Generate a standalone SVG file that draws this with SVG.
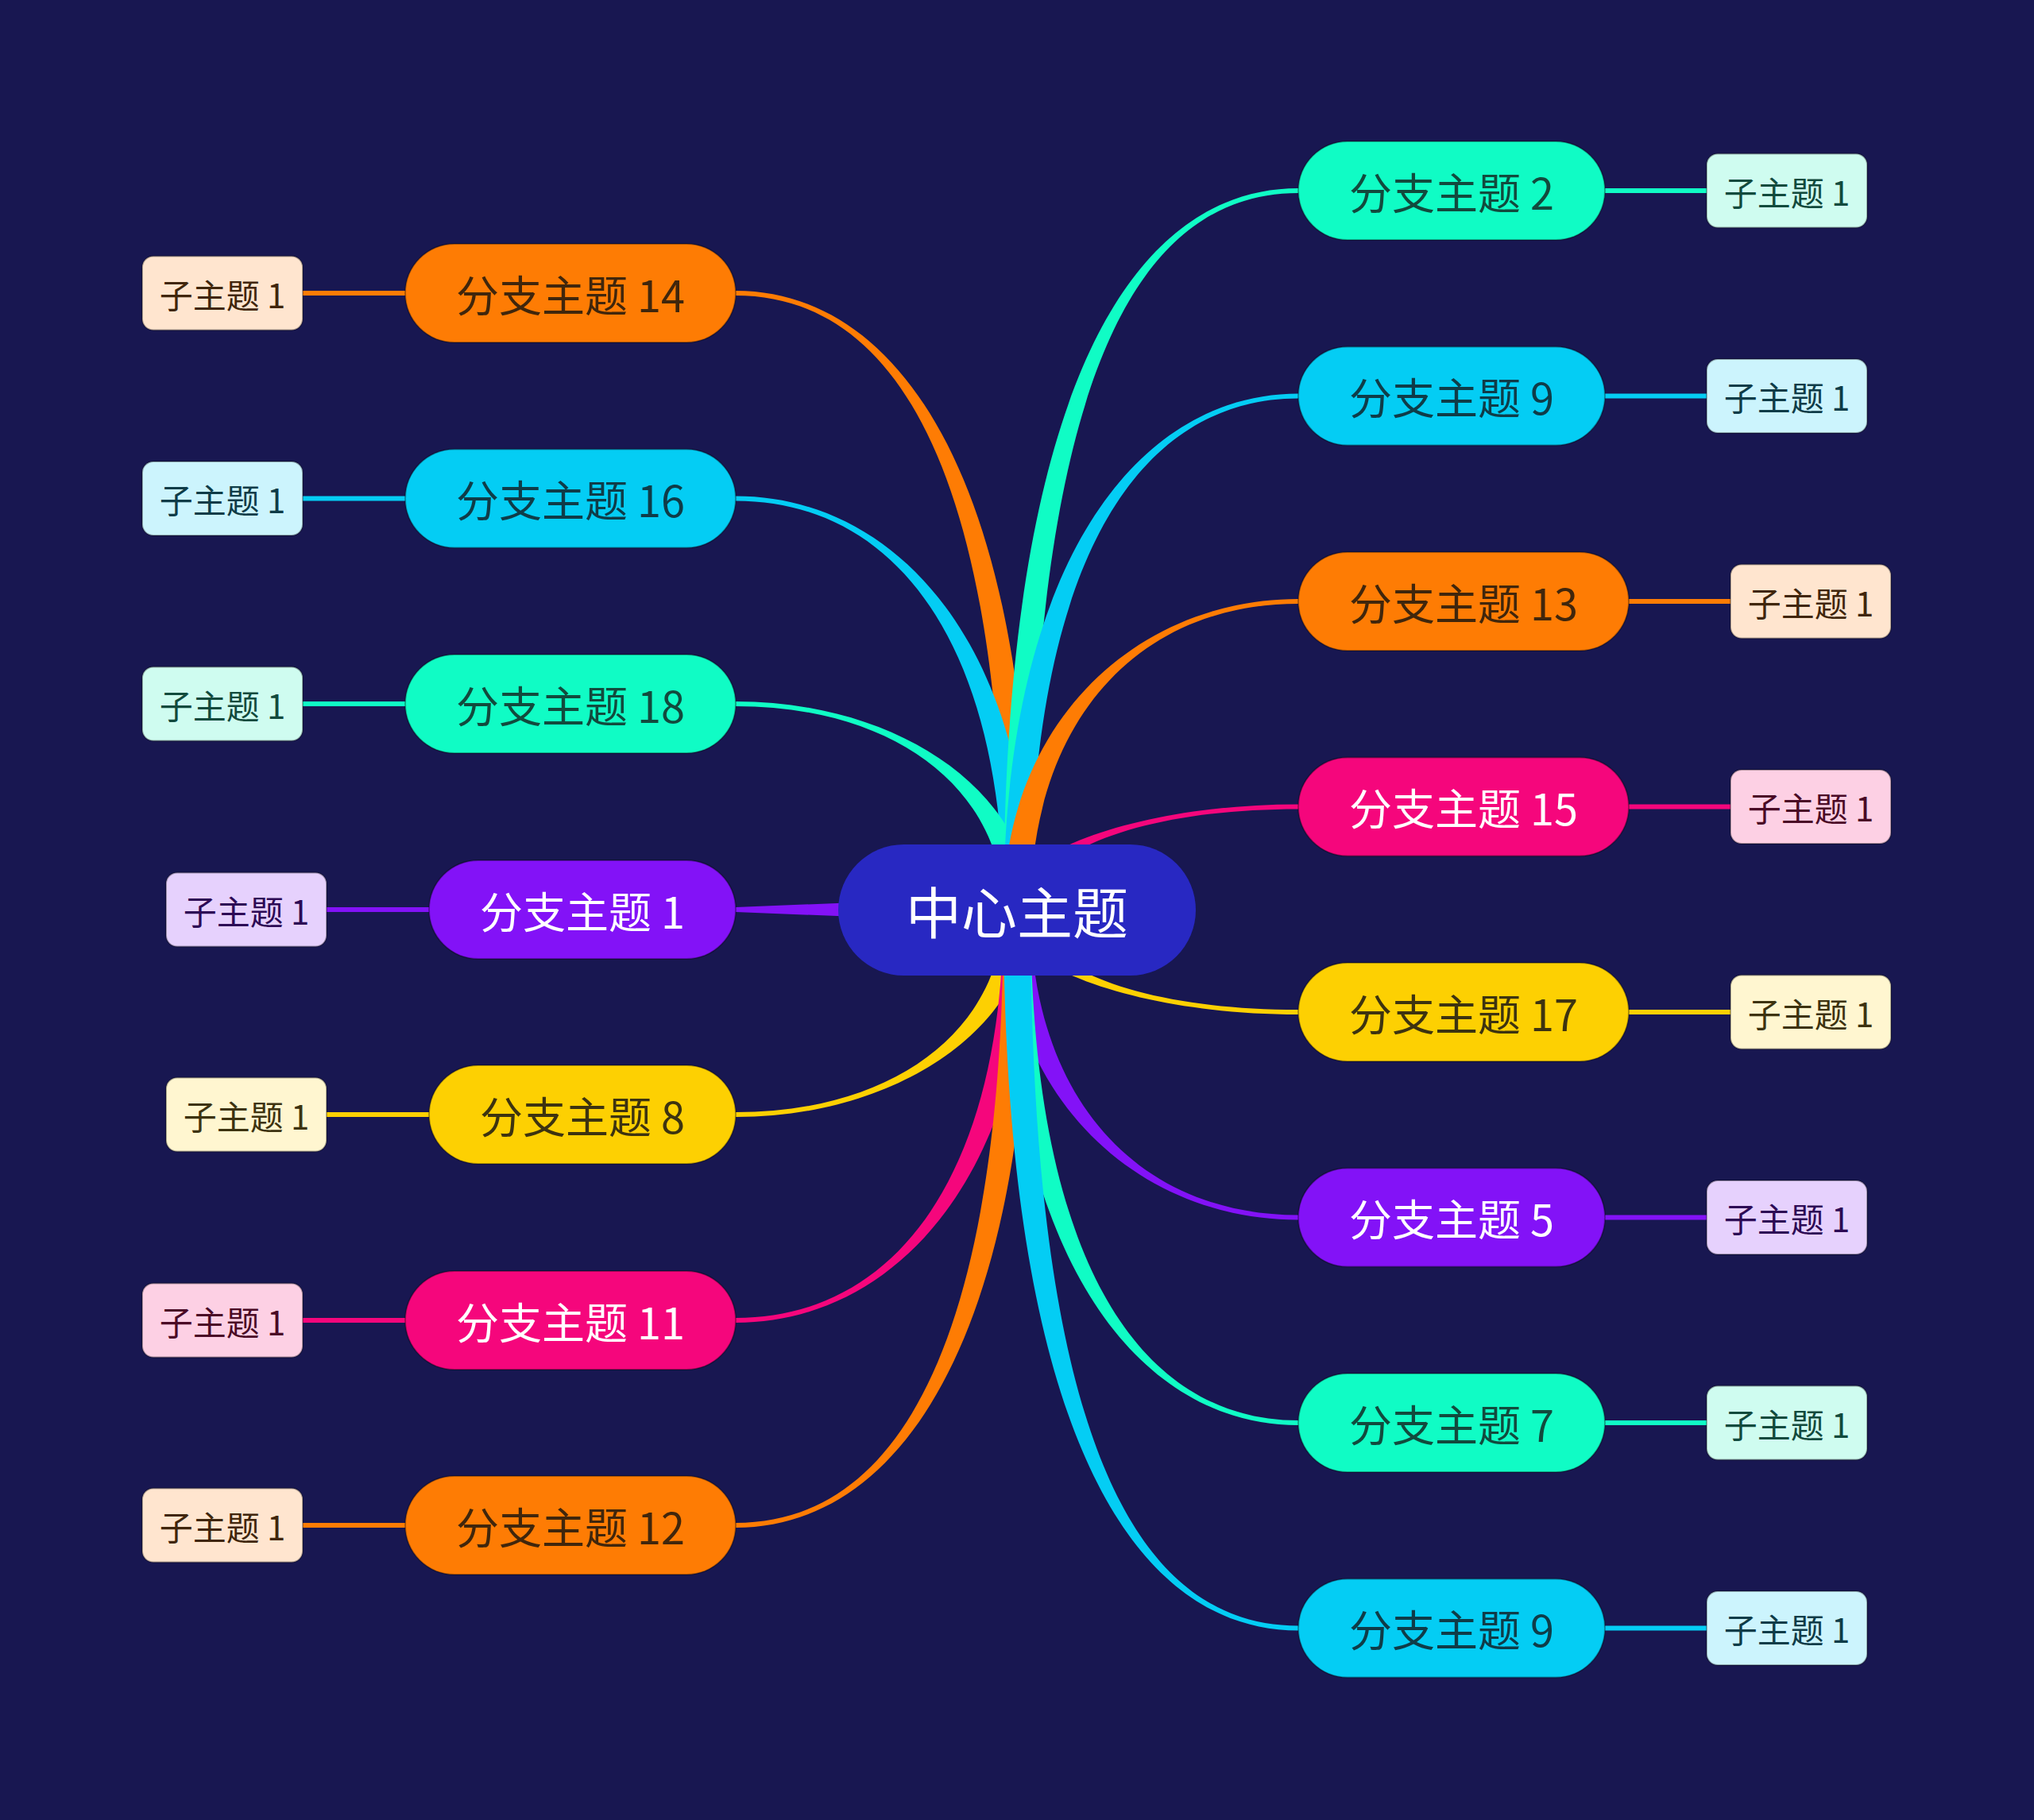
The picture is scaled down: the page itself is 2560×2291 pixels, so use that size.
<svg xmlns="http://www.w3.org/2000/svg" width="2560" height="2291" viewBox="0 0 2560 2291">
<style>
text{font-family:"Noto Sans CJK SC","Noto Sans",sans-serif;text-anchor:middle;dominant-baseline:central}
.b{stroke:#000;stroke-opacity:.3;stroke-width:2}
.bt{font-size:54px}
.st{font-size:42px}
.teal{fill:#10fcc5}.cyan{fill:#04cdf4}.orange{fill:#fe7c04}.pink{fill:#f5067c}.yellow{fill:#fdd002}.purple{fill:#8312f7}
.tealL{fill:#cffcf0}.cyanL{fill:#ccf4fd}.orangeL{fill:#ffe5cf}.pinkL{fill:#fdd0e4}.yellowL{fill:#fff6d0}.purpleL{fill:#e6d1fd}
.tealT{fill:#124a3d}.cyanT{fill:#0f3c48}.orangeT{fill:#40260c}.pinkT{fill:#4a0a26}.yellowT{fill:#3d3310}.purpleT{fill:#2d0a55}.w{fill:#fff}
.lteal{stroke:#10fcc5}.lcyan{stroke:#04cdf4}.lorange{stroke:#fe7c04}.lpink{stroke:#f5067c}.lyellow{stroke:#fdd002}.lpurple{stroke:#8312f7}
.sl{stroke-width:6;fill:none}
</style>
<rect width="2560" height="2291" fill="#181751"/>
<g id="connectors">
<path class="orange" d="M926,366 C1131,366 1297,602 1297,1145 L1263,1145 C1263,602 1131,372 926,372 Z"/>
<path class="cyan" d="M926,624.5 C1131,624.5 1297,817 1297,1145 L1263,1145 C1263,817 1131,630.5 926,630.5 Z"/>
<path class="teal" d="M926,883 C1131,883 1297,998 1297,1145 L1263,1145 C1263,998 1131,889 926,889 Z"/>
<path class="purple" d="M926,1142 L1280,1128 L1280,1162 L926,1148 Z"/>
<path class="yellow" d="M926,1406 C1131,1406 1297,1291 1297,1145 L1263,1145 C1263,1291 1131,1400 926,1400 Z"/>
<path class="pink" d="M926,1665 C1131,1665 1297,1472 1297,1145 L1263,1145 C1263,1472 1131,1659 926,1659 Z"/>
<path class="orange" d="M926,1923 C1131,1923 1297,1688 1297,1145 L1263,1145 C1263,1688 1131,1917 926,1917 Z"/>
<path class="teal" d="M1634,237 C1429,237 1263,482 1263,1145 L1297,1145 C1297,482 1429,243 1634,243 Z"/>
<path class="cyan" d="M1634,495.5 C1429,495.5 1263,714 1263,1145 L1297,1145 C1297,714 1429,501.5 1634,501.5 Z"/>
<path class="orange" d="M1634,754 C1429,754 1263,912 1263,1145 L1297,1145 C1297,912 1429,760 1634,760 Z"/>
<path class="pink" d="M1634,1012.5 C1429,1012.5 1263,1076 1263,1145 L1297,1145 C1297,1076 1429,1018.5 1634,1018.5 Z"/>
<path class="yellow" d="M1634,1277 C1429,1277 1263,1214 1263,1145 L1297,1145 C1297,1214 1429,1271 1634,1271 Z"/>
<path class="purple" d="M1634,1535.5 C1429,1535.5 1263,1377.5 1263,1145 L1297,1145 C1297,1377.5 1429,1529.5 1634,1529.5 Z"/>
<path class="teal" d="M1634,1794 C1429,1794 1263,1576 1263,1145 L1297,1145 C1297,1576 1429,1788 1634,1788 Z"/>
<path class="cyan" d="M1634,2052.5 C1429,2052.5 1263,1808 1263,1145 L1297,1145 C1297,1808 1429,2046.5 1634,2046.5 Z"/>
<path class="sl lorange" d="M381,369 H510"/>
<path class="sl lcyan" d="M381,627.5 H510"/>
<path class="sl lteal" d="M381,886 H510"/>
<path class="sl lpurple" d="M411,1145 H540"/>
<path class="sl lyellow" d="M411,1403 H540"/>
<path class="sl lpink" d="M381,1662 H510"/>
<path class="sl lorange" d="M381,1920 H510"/>
<path class="sl lteal" d="M2020,240 H2148"/>
<path class="sl lcyan" d="M2020,498.5 H2148"/>
<path class="sl lorange" d="M2050,757 H2178"/>
<path class="sl lpink" d="M2050,1015.5 H2178"/>
<path class="sl lyellow" d="M2050,1274 H2178"/>
<path class="sl lpurple" d="M2020,1532.5 H2148"/>
<path class="sl lteal" d="M2020,1791 H2148"/>
<path class="sl lcyan" d="M2020,2049.5 H2148"/>
</g>
<g id="center"><rect x="1055" y="1063" width="450" height="165" rx="82.5" fill="#2828c2"/><text x="1280" y="1145.5" font-size="70" class="w">中心主题</text></g>
<g id="b14"><rect class="b orange" x="510" y="307" width="416" height="124" rx="62"/><text class="bt orangeT" x="718" y="369">分支主题 14</text></g>
<g id="b16"><rect class="b cyan" x="510" y="565.5" width="416" height="124" rx="62"/><text class="bt cyanT" x="718" y="627.5">分支主题 16</text></g>
<g id="b18"><rect class="b teal" x="510" y="824" width="416" height="124" rx="62"/><text class="bt tealT" x="718" y="886">分支主题 18</text></g>
<g id="b1"><rect class="b purple" x="540" y="1083" width="386" height="124" rx="62"/><text class="bt w" x="733" y="1145">分支主题 1</text></g>
<g id="b8"><rect class="b yellow" x="540" y="1341" width="386" height="124" rx="62"/><text class="bt yellowT" x="733" y="1403">分支主题 8</text></g>
<g id="b11"><rect class="b pink" x="510" y="1600" width="416" height="124" rx="62"/><text class="bt w" x="718" y="1662">分支主题 11</text></g>
<g id="b12"><rect class="b orange" x="510" y="1858" width="416" height="124" rx="62"/><text class="bt orangeT" x="718" y="1920">分支主题 12</text></g>
<g id="b2"><rect class="b teal" x="1634" y="178" width="386" height="124" rx="62"/><text class="bt tealT" x="1827" y="240">分支主题 2</text></g>
<g id="b9a"><rect class="b cyan" x="1634" y="436.5" width="386" height="124" rx="62"/><text class="bt cyanT" x="1827" y="498.5">分支主题 9</text></g>
<g id="b13"><rect class="b orange" x="1634" y="695" width="416" height="124" rx="62"/><text class="bt orangeT" x="1842" y="757">分支主题 13</text></g>
<g id="b15"><rect class="b pink" x="1634" y="953.5" width="416" height="124" rx="62"/><text class="bt w" x="1842" y="1015.5">分支主题 15</text></g>
<g id="b17"><rect class="b yellow" x="1634" y="1212" width="416" height="124" rx="62"/><text class="bt yellowT" x="1842" y="1274">分支主题 17</text></g>
<g id="b5"><rect class="b purple" x="1634" y="1470.5" width="386" height="124" rx="62"/><text class="bt w" x="1827" y="1532.5">分支主题 5</text></g>
<g id="b7"><rect class="b teal" x="1634" y="1729" width="386" height="124" rx="62"/><text class="bt tealT" x="1827" y="1791">分支主题 7</text></g>
<g id="b9b"><rect class="b cyan" x="1634" y="1987.5" width="386" height="124" rx="62"/><text class="bt cyanT" x="1827" y="2049.5">分支主题 9</text></g>
<g id="s14"><rect class="b orangeL" x="179" y="322.5" width="202" height="93" rx="14"/><text class="st orangeT" x="280" y="369">子主题 1</text></g>
<g id="s16"><rect class="b cyanL" x="179" y="581" width="202" height="93" rx="14"/><text class="st cyanT" x="280" y="627.5">子主题 1</text></g>
<g id="s18"><rect class="b tealL" x="179" y="839.5" width="202" height="93" rx="14"/><text class="st tealT" x="280" y="886">子主题 1</text></g>
<g id="s1"><rect class="b purpleL" x="209" y="1098.5" width="202" height="93" rx="14"/><text class="st purpleT" x="310" y="1145">子主题 1</text></g>
<g id="s8"><rect class="b yellowL" x="209" y="1356.5" width="202" height="93" rx="14"/><text class="st yellowT" x="310" y="1403">子主题 1</text></g>
<g id="s11"><rect class="b pinkL" x="179" y="1615.5" width="202" height="93" rx="14"/><text class="st pinkT" x="280" y="1662">子主题 1</text></g>
<g id="s12"><rect class="b orangeL" x="179" y="1873.5" width="202" height="93" rx="14"/><text class="st orangeT" x="280" y="1920">子主题 1</text></g>
<g id="s2"><rect class="b tealL" x="2148" y="193.5" width="202" height="93" rx="14"/><text class="st tealT" x="2249" y="240">子主题 1</text></g>
<g id="s9a"><rect class="b cyanL" x="2148" y="452" width="202" height="93" rx="14"/><text class="st cyanT" x="2249" y="498.5">子主题 1</text></g>
<g id="s13"><rect class="b orangeL" x="2178" y="710.5" width="202" height="93" rx="14"/><text class="st orangeT" x="2279" y="757">子主题 1</text></g>
<g id="s15"><rect class="b pinkL" x="2178" y="969" width="202" height="93" rx="14"/><text class="st pinkT" x="2279" y="1015.5">子主题 1</text></g>
<g id="s17"><rect class="b yellowL" x="2178" y="1227.5" width="202" height="93" rx="14"/><text class="st yellowT" x="2279" y="1274">子主题 1</text></g>
<g id="s5"><rect class="b purpleL" x="2148" y="1486" width="202" height="93" rx="14"/><text class="st purpleT" x="2249" y="1532.5">子主题 1</text></g>
<g id="s7"><rect class="b tealL" x="2148" y="1744.5" width="202" height="93" rx="14"/><text class="st tealT" x="2249" y="1791">子主题 1</text></g>
<g id="s9b"><rect class="b cyanL" x="2148" y="2003" width="202" height="93" rx="14"/><text class="st cyanT" x="2249" y="2049.5">子主题 1</text></g>
</svg>
